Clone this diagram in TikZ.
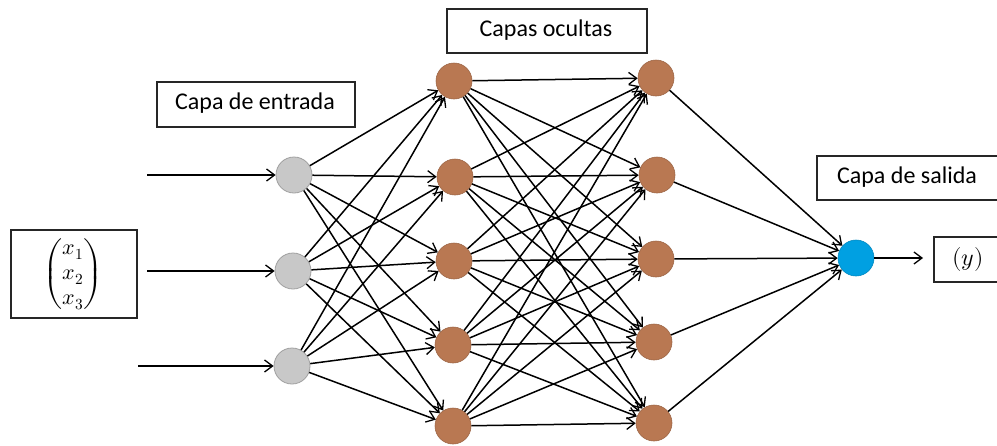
\documentclass[tikz,border=0pt]{standalone}
\usepackage{amsmath}
\usepackage{fontspec}
\usepackage{unicode-math}
\setmainfont{Carlito}
\setmathfont{Latin Modern Math}
\usetikzlibrary{arrows.meta}
\definecolor{nbrown}{RGB}{185,120,82}
\definecolor{nblue}{RGB}{0,160,226}
\definecolor{ngray}{RGB}{200,200,200}
\tikzset{
  neuron/.style={circle,minimum size=36pt,inner sep=0pt},
  innode/.style={neuron,fill=ngray,draw={rgb,255:red,160;green,160;blue,160},line width=0.8pt},
  hidnode/.style={neuron,fill=nbrown,draw=nbrown!85!black,line width=0.6pt},
  outnode/.style={neuron,fill=nblue,draw=nblue!85!black,line width=0.6pt},
  labelbox/.style={draw=black!85,line width=1.4pt},
  labeltext/.style={font=\fontsize{24}{28}\selectfont,inner sep=0pt},
  conn/.style={-{Straight Barb[length=8pt,width=12pt,line width=1.3pt]},line width=1.5pt,black}
}
\begin{document}
\begin{tikzpicture}[x=1pt,y=-1pt]
\clip (0,0) rectangle (997,445);
\fill[white] (0,0) rectangle (997,445);
% label boxes
\draw[labelbox] (157,82) rectangle (355,127);
\node[labeltext] (lin) at (255,103.5) {Capa de entrada};
\draw[labelbox] (447,9) rectangle (647,53);
\node[labeltext] (lhid) at (546,30.5) {Capas ocultas};
\draw[labelbox] (817,156) rectangle (1010,200);
\node[labeltext] (lout) at (907,177.5) {Capa de salida};
\draw[labelbox] (934,237) rectangle (1010,282);
\node[font=\fontsize{24}{28}\selectfont,inner sep=0pt] (ybox) at (968,259.5) {$(y)$};
\draw[labelbox] (11,230) rectangle (137,318);
\node[font=\fontsize{22}{25}\selectfont,inner sep=0pt] (xvec) at (73,274) {$\begin{pmatrix}x_1\\x_2\\x_3\end{pmatrix}$};
% neurons
\node[innode] (i1) at (294,175) {};
\node[innode] (i2) at (293,271) {};
\node[innode] (i3) at (292,366) {};
\node[hidnode] (a1) at (454,81) {};
\node[hidnode] (a2) at (455,177) {};
\node[hidnode] (a3) at (454,261) {};
\node[hidnode] (a4) at (453,345) {};
\node[hidnode] (a5) at (453,426) {};
\node[hidnode] (b1) at (656,78) {};
\node[hidnode] (b2) at (657,175) {};
\node[hidnode] (b3) at (656,259) {};
\node[hidnode] (b4) at (654,342) {};
\node[hidnode] (b5) at (654,423) {};
\node[outnode] (o) at (856,258) {};
% free ends
\coordinate (s1) at (147,175);
\coordinate (s2) at (147,271);
\coordinate (s3) at (138,366);
\coordinate (e) at (923,258);
\draw[conn] (s1) -- (i1);
\draw[conn] (s2) -- (i2);
\draw[conn] (s3) -- (i3);
\foreach \i in {1,2,3}{
  \foreach \j in {1,...,5}{
    \draw[conn] (i\i) -- (a\j);
  }
}
\foreach \i in {1,...,5}{
  \foreach \j in {1,...,5}{
    \draw[conn] (a\i) -- (b\j);
  }
}
\foreach \i in {1,...,5}{
  \draw[conn] (b\i) -- (o);
}
\draw[conn] (o) -- (e);
\end{tikzpicture}
\end{document}
